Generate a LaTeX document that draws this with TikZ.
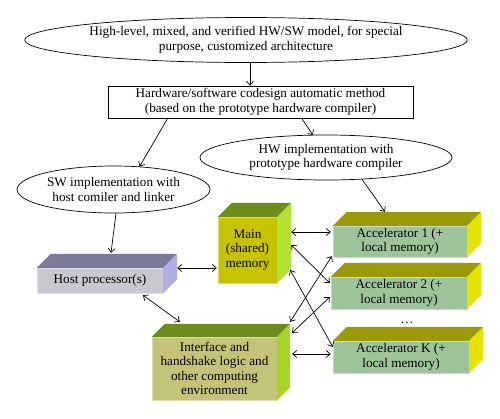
\documentclass[tikz,border=0pt]{standalone}
\usepackage{fontspec}
\setmainfont{Liberation Serif}
\usetikzlibrary{shapes.geometric,arrows.meta,calc}
\definecolor{hostTop}{RGB}{122,122,155}
\definecolor{hostFront}{RGB}{200,200,208}
\definecolor{hostSide}{RGB}{175,175,228}
\definecolor{mainFront}{RGB}{198,196,0}
\definecolor{mainTop}{RGB}{108,140,30}
\definecolor{mainSide}{RGB}{180,226,50}
\definecolor{ifFront}{RGB}{196,196,120}
\definecolor{ifTop}{RGB}{108,140,30}
\definecolor{ifSide}{RGB}{168,212,40}
\definecolor{accFront}{RGB}{158,196,154}
\definecolor{accTop}{RGB}{156,154,10}
\definecolor{accSide}{RGB}{228,228,0}
\newcommand\cubesides[4]{%
  \fill[#3] (#1.north west) -- ++(#2,-#2) -- ($(#1.north east)+(#2,-#2)$) -- (#1.north east) -- cycle;
  \fill[#4] (#1.north east) -- ++(#2,-#2) -- ($(#1.south east)+(#2,-#2)$) -- (#1.south east) -- cycle;}
\begin{document}
\begin{tikzpicture}[x=1pt,y=-1pt,
  txt/.style={font=\fontsize{13.2}{14.5}\selectfont, align=center, inner sep=0pt},
  oval/.style={txt, ellipse, draw, line width=0.7pt},
  frontface/.style={txt, rectangle, draw=#1!60!white, line width=0.4pt, fill=#1},
  arr/.style={-{Straight Barb[length=4pt,width=7pt]}, line width=0.7pt},
  darr/.style={{Straight Barb[length=4pt,width=7pt]}-{Straight Barb[length=4pt,width=7pt]}, line width=0.7pt}]
\useasboundingbox (0,0) rectangle (500,418);

\node[oval, minimum width=438pt, minimum height=45pt] (top) at (246,40)
  {High-level, mixed, and verified HW/SW model, for special\\purpose, customized architecture};
\node[txt, draw, line width=0.7pt, minimum width=305pt, minimum height=32pt] (codes) at (260.5,102)
  {Hardware/software codesign automatic method\\(based on the prototype hardware compiler)};
\node[oval, minimum width=252pt, minimum height=45pt] (hw) at (326,157.5)
  {HW implementation with\\prototype hardware compiler};
\node[oval, minimum width=193pt, minimum height=47pt] (sw) at (113.5,189.5)
  {SW implementation with\\host comiler and linker};

\node[frontface=hostFront, minimum width=126pt, minimum height=25pt] (host) at (100,280.5) {Host processor(s)};
\cubesides{host}{14}{hostTop}{hostSide}
\node[frontface=mainFront, minimum width=59pt, minimum height=66pt] (main) at (247.5,250) {Main\\(shared)\\memory};
\cubesides{main}{14}{mainTop}{mainSide}
\node[frontface=ifFront, minimum width=125pt, minimum height=63pt] (iface) at (214.5,368.5)
  {Interface and\\handshake logic and\\other computing\\environment};
\cubesides{iface}{13}{ifTop}{ifSide}
\node[frontface=accFront, minimum width=134pt, minimum height=31pt] (acc1) at (400,241.5) {Accelerator 1 (+\\local memory)};
\cubesides{acc1}{14}{accTop}{accSide}
\node[frontface=accFront, minimum width=136pt, minimum height=32pt] (acc2) at (399,293) {Accelerator 2 (+\\local memory)};
\cubesides{acc2}{14}{accTop}{accSide}
\node[frontface=accFront, minimum width=136pt, minimum height=32pt] (accK) at (401,357) {Accelerator K (+\\local memory)};
\cubesides{accK}{14}{accTop}{accSide}
\node[txt] (dots) at (407,323) {\dots};

\draw[arr] ($(top.south)+(4,0)$) -- ($(codes.north)+(-10.5,0)$);
\draw[arr] ($(codes.south west)+(60,0)$) -- ($(sw.north)+(26,1)$);
\draw[arr] ($(codes.south west)+(194,0)$) -- ($(hw.north)+(-13,0.5)$);
\draw[arr] ($(sw.south)+(2.5,0)$) -- ($(host.north)+(11,-15)$);
\draw[arr] ($(hw.south)+(36,-1)$) -- ($(acc1.north)+(-15,-14)$);

\draw[darr] ($(host.east)+(14,-12.5)$) -- ($(main.west)+(-1,18)$);
\draw[darr] ($(host.south)+(43,2)$) -- ($(iface.north west)+(28,-15)$);
\draw[darr] ($(main.east)+(14,-18)$) -- ($(acc1.west)+(-2,-9.5)$);
\draw[darr] ($(main.east)+(14,-5)$) -- ($(acc2.west)+(-1,-10)$);
\draw[darr] ($(main.east)+(13,20)$) -- ($(accK.west)+(0,-10)$);
\draw[darr] ($(iface.north east)+(13,-15)$) -- ($(acc1.south west)+(-1,-1)$);
\draw[darr] ($(iface.north east)+(15,-4)$) -- ($(acc2.west)+(-1,4)$);
\draw[darr] ($(iface.east)+(15,-14.5)$) -- ($(accK.west)+(-2,-3)$);
\end{tikzpicture}
\end{document}
